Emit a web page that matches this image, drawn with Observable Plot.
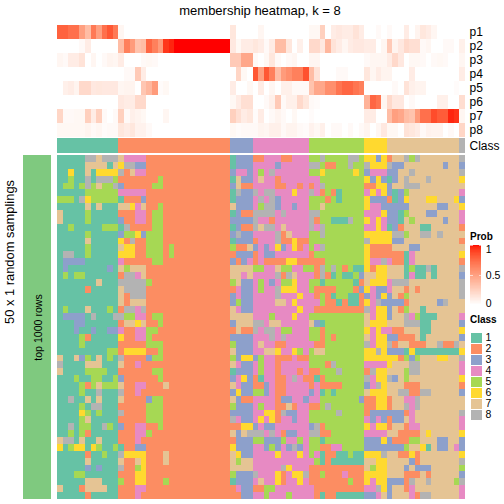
<!DOCTYPE html>
<html><head><meta charset="utf-8">
<script src="https://cdn.jsdelivr.net/npm/d3@7"></script>
<script src="https://cdn.jsdelivr.net/npm/@observablehq/plot@0.6"></script>
<style>
html,body{margin:0;padding:0;background:#fff}
#root{position:relative;width:504px;height:504px;overflow:hidden;font-family:"Liberation Sans",sans-serif;color:#000}
#root>*{position:absolute}
#root svg{display:block;background:transparent}
.t{white-space:nowrap;line-height:1}
</style></head><body><div id="root"></div>
<script>
const title = "membership heatmap, k = 8";
const sideTitle = "50 x 1 random samplings";
const sideLabel = "top 1000 rows";
const groupNames = ["p1","p2","p3","p4","p5","p6","p7","p8"];
const classColors = ["#66C2A5","#FC8D62","#8DA0CB","#E78AC3","#A6D854","#FFD92F","#E5C494","#B3B3B3"];
const classLabels = ["1","2","3","4","5","6","7","8"];
const classSizes = [11,20,4,10,10,4,13,1];

const p1 = [.78,.78,.72,.72,.5,.35,.68,.5,.72,.82,.68,.05,0,0,0,0,0,0,0,0,0,0,0,0,0,0,0,0,0,0,0,.13,0,0,0,0,.05,0,0,0,0,0,0,0,0,.04,.04,.25,0,.1,.12,.1,.1,.15,.1,0,0,.03,0,.03,0,0,.1,0,.06,.13,.1,.05,0,0,0,0,0];
const p2 = [0,0,0,0,.03,.1,0,0,0,0,0,.35,.65,.52,.32,.35,.76,.65,.52,.92,.96,1,1,1,1,1,1,1,1,1,1,.12,.04,.1,.1,.13,.1,.03,.1,.35,.35,.13,0,.08,0,.2,.2,.12,.38,.15,.1,.05,.1,.12,.12,.1,.1,0,.05,.28,.06,.12,.2,.17,.17,.03,.05,0,0,.03,.03,0,.08];
const p3 = [.05,.03,.1,.1,.15,0,.05,0,.03,.06,.05,.1,0,0,0,.03,.04,.03,0,0,0,0,0,0,0,0,0,0,0,0,0,.28,.28,.46,.46,.03,0,.04,.13,.03,0,.03,.05,0,0,.05,.05,0,0,0,0,0,0,0,0,.03,.05,.05,.05,.1,.2,.12,0,.04,.04,.03,0,.03,.04,.03,0,0,.05];
const p4 = [0,0,0,0,0,0,0,0,0,0,0,0,.03,.03,.28,.1,0,0,0,0,0,0,0,0,0,0,0,0,0,0,0,0,.22,.04,0,.82,.5,.82,.65,.35,.52,.58,.65,.65,.84,.35,.15,0,0,0,.03,.03,0,0,0,.13,.05,.1,.06,.06,0,0,0,.1,0,0,0,0,0,0,0,0,.1];
const p5 = [0,.08,.1,.06,.2,.2,.12,.13,.12,.12,.12,.05,.06,.06,0,.3,.38,.52,.02,.04,0,0,0,0,0,0,0,0,0,0,0,.1,0,0,.04,0,.1,0,.05,0,.08,.08,.03,.03,.03,.32,.46,.46,.58,.58,.7,.76,.76,.7,.65,0,0,0,0,0,.03,0,.15,.08,.06,.06,0,0,0,0,0,.02,0];
const p6 = [0,0,0,0,0,0,0,0,0,0,0,.12,.1,.1,.2,.2,0,0,0,0,0,0,0,0,0,0,0,0,0,0,0,.04,.1,.17,.17,0,0,.03,.08,.28,.03,.08,.08,.2,.13,.03,.02,0,0,0,0,0,0,0,0,.4,.76,.7,.05,.2,.12,.12,0,.03,0,0,0,0,.08,.08,0,0,.18];
const p7 = [.22,.03,.03,.04,.04,.25,.1,.25,.03,0,.03,.25,.03,.08,.06,.04,0,0,0,.05,0,0,0,0,0,0,0,0,0,0,0,.25,.17,.1,.13,.02,.1,0,.03,.06,.03,0,.04,0,0,.02,0,0,0,0,0,0,0,0,0,.1,.1,0,0,.35,.5,.46,.35,.32,.52,.72,.72,.86,.8,.8,.96,.93,.05];
const p8 = [.04,.04,.04,.04,.04,.06,.03,.05,.02,.03,.03,.13,.1,.13,.07,.07,.03,0,0,0,0,0,0,0,0,0,0,0,0,0,0,.04,.02,.03,.03,.03,.06,.05,.08,.08,.03,.06,.06,.03,.02,.07,.04,.08,0,.03,.03,0,.03,0,.03,.06,0,.05,.12,.04,.04,0,.15,.13,.1,.03,.07,.06,.06,0,.03,0,.22];
const probSeries = [p1,p2,p3,p4,p5,p6,p7,p8];

const rows = [
"11111887888 74444222222222222222 1333 2244422444 5585555885 6636 2778587777777 8",
"11111777717 68833222222222222222 1333 4444344444 8852255855 8666 8337777777377 3",
"11611716666 82744222222222222222 3443 4548444444 5565555565 3444 3377877777777 8",
"11511818885 22222225222222222222 1733 4744244444 4455555555 6363 1378777877777 6",
"15515857558 32222255222222222222 3722 4444224424 2485555555 2266 3778887777777 7",
"11111555555 44444222222222222222 1833 8488444644 8425215555 4646 3135777777777 4",
"55518655555 12223222222222222222 1333 4848344444 5552515555 6333 2136777667776 3",
"11111717111 77647225222222222222 7333 4588344344 5575555555 6443 3333777773377 6",
"71111511111 22244255222222222222 1322 8888484444 8855555555 4446 3315777337777 4",
"71111511111 32244255222222222222 3333 8442444444 8255111855 6464 3317577777377 4",
"11511111555 18222255222222222222 1322 8788474444 8485555555 4464 1327771177777 2",
"11111511111 35563555222222222222 3833 4444827444 5585555555 6666 6885778878777 7",
"11111711111 62822555222222222222 1333 2444822622 5555555555 8666 6337777777777 2",
"11111511111 76622555252222222222 5227 3434634624 5485555555 6222 2777337777777 7",
"18811511111 66622555252222222222 2333 2433444444 2555555555 6222 2221477777777 6",
"13333111111 42222255222222222222 3234 2422226622 2225555555 6448 4221477777777 2",
"13111111131 75777222222222222222 7777 5544755445 5285852511 6266 7771511817777 8",
"15155111111 28847222222222222222 7747 4444828744 4282151153 7766 7771411717777 3",
"11111117111 88888522222222222222 5733 4543455644 5515555512 7666 4888777777777 8",
"11111211111 78888222222222222222 2433 4544866644 5222255523 6433 4772727777777 8",
"11111111111 72888222222222222222 3433 4444844464 4252155112 3436 3725777777777 8",
"11111111111 72777222222222222222 3533 4444774644 4452212112 6483 3332777773877 7",
"15111711151 28848222222222222222 7433 4444444464 4222222222 8466 3725771777777 7",
"13333181118 85544255222222222222 7777 4445444644 5555555555 7466 3778451117777 4",
"11133111111 27767225222222222222 3777 8847744444 7315555555 7666 7778881177777 3",
"11131131133 42244552222222222222 2722 8488455444 5525555555 6464 4227771177777 6",
"11115211111 62244522222222222222 3333 4448484444 5525255555 7466 3322271777777 3",
"11115111111 22222555222222222222 5333 4744224444 4225555555 8466 8277222778228 7",
"11111111155 26666225222222222222 7333 4477644654 5775555555 6686 3331611111111 6",
"71173517151 82222355222222222222 5366 3544222422 5555555555 6666 6625357776677 8",
"81111777111 72242222222222222222 7433 4544244444 5552855555 4444 6777887777777 4",
"71111555511 22222255222222222222 1333 4544244424 2255585555 2866 7775887777777 4",
"11151155115 32222225222222222222 3463 2144224842 2125555555 8466 8375777777777 6",
"11115257555 72244222722222222222 7433 2234224444 2422225555 3486 7772227777777 2",
"11115118111 82242222222222222222 3633 5534224444 3415155555 7666 7788228877777 3",
"11811717111 72222355222222222222 7322 4444233443 4455555553 2266 2774487777777 7",
"11115188111 22222555222222222222 5333 4544227244 2258555555 2266 2778487777777 7",
"11116515111 82222555222222222222 3333 4466283344 5555585555 2333 3332477777777 8",
"11115711111 22222555222222222222 8433 4646244344 5555555555 4343 2337477777777 4",
"11815511851 32244225222222222222 2266 3433444444 3825555555 6466 2772447777777 4",
"11515211111 22244522222222222222 7378 8848423344 8822555555 4444 7722227677777 6",
"78817117111 22242222222222222222 2333 5533354454 5515555555 3336 3222557773377 3",
"61566165115 12233222222222222222 6333 4435343834 5522445555 3333 3335776173374 3",
"11111211511 86666222722222222222 7633 4444644464 5412211511 6668 7722627777777 6",
"11111711111 72276222722222222222 7577 4444444444 4512111111 7766 7777327777777 8",
"11111313111 82256222222222222222 7777 4444486444 2222222222 7566 7773733377777 5",
"11155111111 22266222222222222222 5333 8444624668 2252224222 6666 7772227277777 3",
"11111777111 52266222522222222222 1333 4744624464 2222222522 6466 3332877877775 8",
"71112777711 22244222222222222222 2433 2255444444 4222222222 4486 3772477777777 4",
"11111211111 22242222222222222222 2233 4454445444 4212211111 3347 3777428877777 4"
];

const nCols = 73;
const grid = rows.map(s => s.replace(/ /g,""));

const colIdx = d3.range(nCols);
const crisp = {shapeRendering:"crispEdges"};
const root = document.getElementById("root");
const place = (el,l,t)=>{el.style.left=l+"px";el.style.top=t+"px";root.appendChild(el);};
const font = {fontFamily:'"Liberation Sans",sans-serif',fontSize:"12px",background:"transparent",overflow:"visible"};

const mk=(txt,css)=>{const d=document.createElement("div");d.className="t";d.textContent=txt;Object.assign(d.style,css);root.appendChild(d);return d;};
mk(title,{left:"60px",width:"400px",top:"4px",textAlign:"center",fontSize:"13px"});
mk(sideTitle,{left:"10px",top:"252px",fontSize:"12.9px",transform:"translate(-50%,-50%) rotate(-90deg)"});

const probCells = probSeries.flatMap((s,i)=>s.map((v,c)=>({c,g:groupNames[i],v})));
const probColor = {type:"linear",domain:[0,1],range:["#ffffff","#ff0000"],interpolate:d3.interpolateLab};
place(Plot.plot({width:447,height:113,marginTop:0,marginBottom:0,marginLeft:0,marginRight:39,style:font,
  x:{domain:colIdx,axis:null,padding:0},
  y:{domain:groupNames,axis:"right",tickSize:0,tickPadding:4,label:null,padding:0},
  color:probColor,
  marks:[Plot.cell(probCells,{x:"c",y:"g",fill:"v",...crisp})]}),57,24);

const classOfCol = classSizes.flatMap((n,i)=>Array(n).fill(classLabels[i]));
place(Plot.plot({width:447,height:15,marginTop:0,marginBottom:0,marginLeft:0,marginRight:39,style:font,
  x:{domain:colIdx,axis:null,padding:0},
  y:{domain:["Class"],axis:"right",tickSize:0,tickPadding:4,label:null,padding:0},
  color:{domain:classLabels,range:classColors},
  marks:[Plot.cell(classOfCol.map((k,c)=>({c,k})),{x:"c",y:()=>"Class",fill:"k",...crisp})]}),57,138);

const mainCells = grid.flatMap((s,r)=>[...s].map((k,c)=>({c,r,k})));
place(Plot.plot({width:408,height:344,margin:0,style:font,
  x:{domain:colIdx,axis:null,padding:0},
  y:{domain:d3.range(grid.length),axis:null,padding:0},
  color:{domain:classLabels,range:classColors},
  marks:[Plot.cell(mainCells,{x:"c",y:"r",fill:"k",...crisp})]}),57,155);

place(Plot.plot({width:28,height:344,margin:0,style:font,
  x:{axis:null,domain:[0,1]},y:{axis:null,domain:[0,1]},
  marks:[Plot.rect([0],{x1:0,x2:1,y1:0,y2:1,fill:"#7FC97F",...crisp}),
         Plot.text([sideLabel],{frameAnchor:"middle",dx:1,rotate:-90,fontSize:10.6,fill:"#000"})]}),23,155);

const probSteps = d3.range(0,1,0.01);
const probTicks = [0.5,1];
const labelX = 1.35;
place(Plot.plot({width:34,height:60,margin:0,style:{...font,fontSize:"10px"},
  x:{axis:null,domain:[0,3],range:[0,34]},y:{axis:null,domain:[0,1],range:[60,0]},
  color:probColor,
  marks:[Plot.rect(probSteps,{x1:0,x2:1,y1:d=>d,y2:d=>d+0.0101,fill:d=>d,...crisp}),
    Plot.ruleY(probTicks,{x1:0,x2:.25,stroke:"#fff",strokeOpacity:.6,...crisp}),
    Plot.ruleY(probTicks,{x1:.75,x2:1,stroke:"#fff",strokeOpacity:.6,...crisp}),
    Plot.text([1],{x:labelX,y:d=>d,text:d=>String(d),dy:4,textAnchor:"start",fontSize:10.5}),
    Plot.text([.5],{x:labelX,y:d=>d,text:d=>String(d),textAnchor:"start",fontSize:10.5}),
    Plot.text([0],{x:labelX,y:d=>d,text:d=>String(d),dy:-2,textAnchor:"start",fontSize:10.5})]}),470,245);
mk("Prob",{left:"470px",top:"232px",fontSize:"10px",fontWeight:"bold"});
mk("Class",{left:"470px",top:"315px",fontSize:"10px",fontWeight:"bold"});

place(Plot.plot({width:34,height:91,marginTop:0,marginBottom:0,marginLeft:0,marginRight:22,style:{...font,fontSize:"10.5px"},
  x:{axis:null,domain:["k"],padding:0},
  y:{domain:classLabels,axis:"right",tickSize:0,tickPadding:3,label:null,padding:0},
  color:{domain:classLabels,range:classColors},
  marks:[Plot.cell(classLabels,{x:()=>"k",y:d=>d,fill:d=>d,inset:.5,...crisp})]}),470,330);
</script></body></html>
